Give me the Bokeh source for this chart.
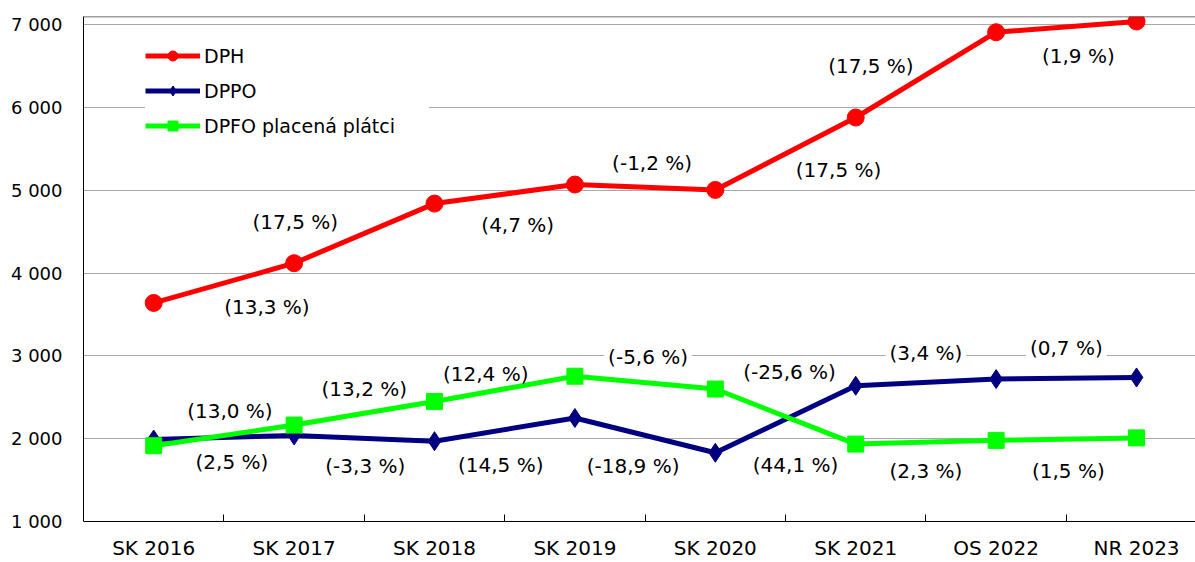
from bokeh.plotting import figure
from bokeh.models import Range1d, FixedTicker, Span, ColumnDataSource, Legend, LegendItem
from bokeh.embed import file_html
from bokeh.resources import INLINE
from bokeh.core.properties import value

# ---------------- data ----------------
categories = ["SK 2016", "SK 2017", "SK 2018", "SK 2019", "SK 2020", "SK 2021", "OS 2022", "NR 2023"]
dph = [3640, 4120, 4840, 5070, 5005, 5880, 6910, 7040]
dppo = [1990, 2040, 1970, 2250, 1830, 2640, 2720, 2740]
dpfo = [1915, 2165, 2450, 2755, 2600, 1935, 1980, 2010]

dph_growth = ["(13,3 %)", "(17,5 %)", "(4,7 %)", "(-1,2 %)", "(17,5 %)", "(17,5 %)", "(1,9 %)"]
dppo_growth = ["(2,5 %)", "(-3,3 %)", "(14,5 %)", "(-18,9 %)", "(44,1 %)", "(3,4 %)", "(0,7 %)"]
dpfo_growth = ["(13,0 %)", "(13,2 %)", "(12,4 %)", "(-5,6 %)", "(-25,6 %)", "(2,3 %)", "(1,5 %)"]

y_ticks = [1000, 2000, 3000, 4000, 5000, 6000, 7000]
y_tick_labels = ["1 000", "2 000", "3 000", "4 000", "5 000", "6 000", "7 000"]

series_names = ["DPH", "DPPO", "DPFO placená plátci"]

# ---------------- styles / label placement (screen px offsets from segment midpoints) ----
FONT = "DejaVu Sans"
FS = "20px"
dph_off = [(43, 23.5), (-69, -11.5), (13, 31), (7, -24), (53, 16.5), (-55, -9), (12, 29)]
dppo_off = [(8, 24.4), (1, 27.6), (-4, 35), (-12, 30.5), (10, 45.7), (0, -29), (0, -30)]
dpfo_off = [(6, -24.5), (0, -24.3), (-19, -14.7), (3, -26), (4, -44.6), (0, 28.6), (2, 31.7)]
boxed = {("DPFO", 3), ("DPPO", 5), ("DPPO", 6)}

x = list(range(len(categories)))

p = figure(width=1195, height=562,
           x_range=Range1d(-0.5, 7.42), y_range=Range1d(1000, 7100),
           output_backend="svg", toolbar_location=None,
           min_border_left=83, min_border_right=0, min_border_top=16, min_border_bottom=39)
p.outline_line_color = None
p.background_fill_color = "white"
p.border_fill_color = "white"

# axes
p.xaxis.ticker = FixedTicker(ticks=x, minor_ticks=[i + 0.5 for i in x[:-1]])
p.xaxis.major_label_overrides = {i: c for i, c in zip(x, categories)}
p.xaxis.major_tick_line_color = None
p.xaxis.major_tick_in = 0
p.xaxis.major_tick_out = 0
p.xaxis.minor_tick_in = 7
p.xaxis.minor_tick_out = 0
p.xaxis.minor_tick_line_color = "black"
p.xaxis.axis_line_color = "black"
p.xaxis.major_label_text_font = FONT
p.xaxis.major_label_text_font_size = FS
p.xaxis.major_label_text_color = "black"
p.xaxis.major_label_standoff = 14

p.yaxis.ticker = FixedTicker(ticks=y_ticks, minor_ticks=[])
p.yaxis.major_label_overrides = {t: l for t, l in zip(y_ticks, y_tick_labels)}
p.yaxis.major_tick_line_color = None
p.yaxis.major_tick_in = 0
p.yaxis.major_tick_out = 0
p.yaxis.minor_tick_line_color = None
p.yaxis.minor_tick_in = 0
p.yaxis.minor_tick_out = 0
p.yaxis.axis_line_color = "black"
p.yaxis.major_label_text_font = FONT
p.yaxis.major_label_text_font_size = "18px"
p.yaxis.major_label_text_color = "black"
p.yaxis.major_label_standoff = 21

p.xgrid.visible = False
p.ygrid.ticker = FixedTicker(ticks=y_ticks, minor_ticks=[])
p.ygrid.grid_line_color = "#505050"
p.ygrid.grid_line_dash = "1 1"
p.ygrid.grid_line_width = 1

p.add_layout(Span(location=p.y_range.end, dimension="width", line_color="#404040", line_width=1.5))

# series
r_dph_l = p.line(x, dph, line_color="#ff0000", line_width=5)
r_dph_m = p.scatter(x, dph, marker="circle", size=17, fill_color="#ff0000", line_color="#ff0000")
r_dppo_l = p.line(x, dppo, line_color="#000080", line_width=5)
r_dppo_m = p.scatter(x, dppo, marker="diamond", size=19, fill_color="#000080", line_color="#000080")
r_dpfo_l = p.line(x, dpfo, line_color="#00ff00", line_width=5)
r_dpfo_m = p.scatter(x, dpfo, marker="square", size=16, fill_color="#00ff00", line_color="#00ff00")

legend = Legend(items=[
    LegendItem(label=series_names[0], renderers=[r_dph_l, r_dph_m]),
    LegendItem(label=series_names[1], renderers=[r_dppo_l, r_dppo_m]),
    LegendItem(label=series_names[2], renderers=[r_dpfo_l, r_dpfo_m]),
], location=(62, 383))
legend.glyph_width = 55
legend.glyph_height = 25
legend.label_height = 25
legend.label_width = 225
legend.spacing = 10
legend.padding = 20
legend.margin = 0
legend.label_standoff = 4
legend.label_text_font = FONT
legend.label_text_font_size = "19px"
legend.label_text_color = "black"
legend.background_fill_color = "white"
legend.background_fill_alpha = 1.0
legend.border_line_color = None
p.add_layout(legend)

# growth labels
plain = dict(x=[], y=[], text=[], xo=[], yo=[])
box = dict(x=[], y=[], text=[], xo=[], yo=[])
for name, vals, texts, offs in [("DPH", dph, dph_growth, dph_off),
                                ("DPPO", dppo, dppo_growth, dppo_off),
                                ("DPFO", dpfo, dpfo_growth, dpfo_off)]:
    for i, t in enumerate(texts):
        d = box if (name, i) in boxed else plain
        d["x"].append(x[i] + 0.5)
        d["y"].append((vals[i] + vals[i + 1]) / 2)
        d["text"].append(t)
        d["xo"].append(offs[i][0])
        d["yo"].append(offs[i][1])

p.text(x="x", y="y", text="text", x_offset="xo", y_offset="yo", source=ColumnDataSource(plain),
       text_font=value(FONT), text_font_size=FS, text_color="black",
       text_align="center", text_baseline="middle")
p.text(x="x", y="y", text="text", x_offset="xo", y_offset="yo", source=ColumnDataSource(box),
       text_font=value(FONT), text_font_size=FS, text_color="black",
       text_align="center", text_baseline="middle",
       background_fill_color="white", padding=4)

open("out.html", "w").write(file_html(p, INLINE))
